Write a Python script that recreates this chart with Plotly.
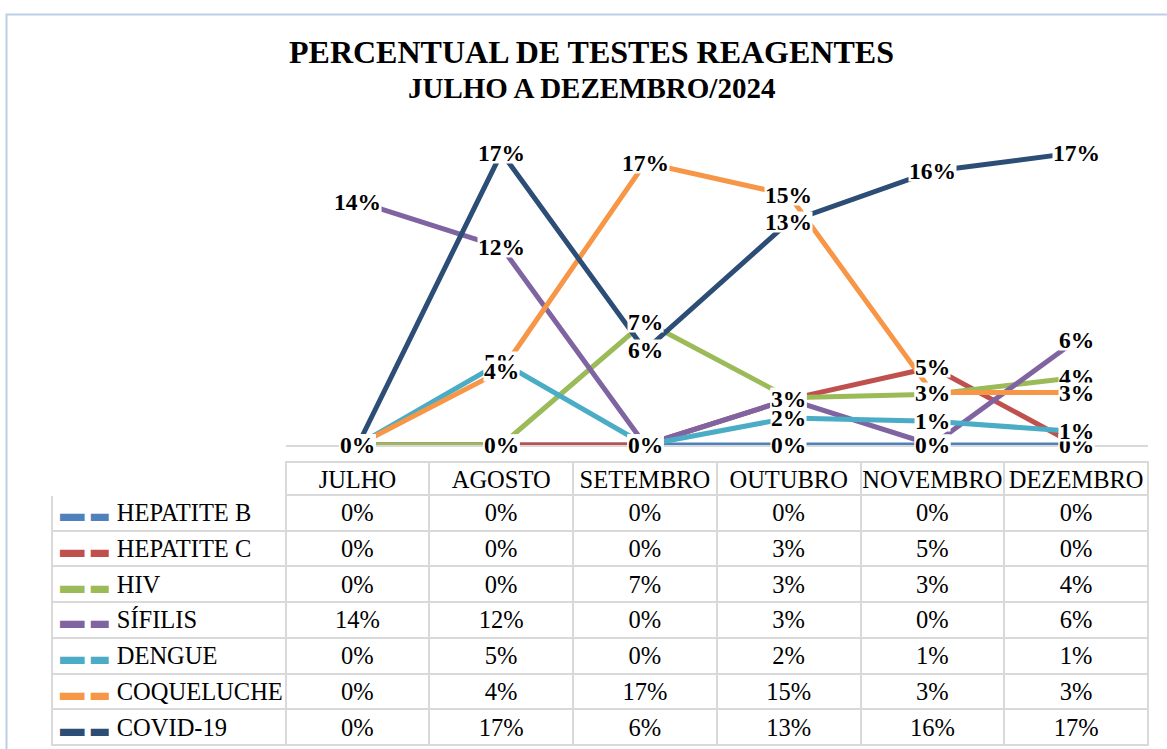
import plotly.graph_objects as go

W, H = 1167, 749

months = ["JULHO", "AGOSTO", "SETEMBRO", "OUTUBRO", "NOVEMBRO", "DEZEMBRO"]
series_names = ["HEPATITE B", "HEPATITE C", "HIV", "SÍFILIS", "DENGUE", "COQUELUCHE", "COVID-19"]
colors = ["#4F81BD", "#C0504D", "#9BBB59", "#8064A2", "#4BACC6", "#F79646", "#2C4D75"]

hepatite_b = [0.0, 0.0, 0.0, 0.0, 0.0, 0.0]
hepatite_c = [0.0, 0.0, 0.0, 0.027, 0.046, 0.0]
hiv = [0.0, 0.0, 0.073, 0.028, 0.030, 0.040]
sifilis = [0.144, 0.117, 0.0, 0.027, 0.0, 0.062]
dengue = [0.0, 0.049, 0.0, 0.016, 0.014, 0.008]
coqueluche = [0.0, 0.044, 0.167, 0.148, 0.031, 0.031]
covid = [0.0, 0.173, 0.056, 0.132, 0.162, 0.173]

all_series = [hepatite_b, hepatite_c, hiv, sifilis, dengue, coqueluche, covid]

title_1 = "PERCENTUAL DE TESTES REAGENTES"
title_2 = "JULHO A DEZEMBRO/2024"

SERIF = "Liberation Serif"
NBSP = "\u00a0"

def px_x(p):
    return p / W

def px_y(p):
    return 1 - p / H

fig = go.Figure()

for name, vals, col in zip(series_names, all_series, colors):
    fig.add_trace(go.Scatter(
        x=months, y=vals, mode="lines", name=name,
        line=dict(color=col, width=5),
        showlegend=False, cliponaxis=False, hoverinfo="skip",
    ))

annotations = []
for vals in all_series:
    for m, v in zip(months, vals):
        annotations.append(dict(
            x=m, y=v, xref="x", yref="y", text=f"<b>{v:.0%}</b>",
            showarrow=False, xanchor="center", yanchor="middle",
            font=dict(family=SERIF, size=23.5, color="black"),
            bgcolor="white", borderpad=0, height=20,
        ))

annotations.append(dict(x=px_x(591), y=px_y(52), xref="paper", yref="paper",
                        text=f"<b>{title_1}</b>", showarrow=False,
                        xanchor="center", yanchor="middle",
                        font=dict(family=SERIF, size=32, color="black")))
annotations.append(dict(x=px_x(591), y=px_y(88), xref="paper", yref="paper",
                        text=f"<b>{title_2}</b>", showarrow=False,
                        xanchor="center", yanchor="middle",
                        font=dict(family=SERIF, size=29, color="black")))

# data table: grid + values
value_cols = [[f"{s[i]:.0%}" for s in all_series] for i in range(len(months))]
grid = "#D9D9D9"
HEADER_H = 33
ROW_H = 35.7
TFONT = 24.5

fig.add_trace(go.Table(
    domain=dict(x=[px_x(52), px_x(1148)], y=[0, px_y(462)]),
    columnwidth=[234] + [144] * 6,
    header=dict(
        values=[""] + months,
        fill_color="white",
        line=dict(color=["white"] + [grid] * 6, width=2),
        align="center",
        height=HEADER_H,
        font=dict(family=SERIF, size=TFONT, color="black"),
    ),
    cells=dict(
        values=[[""] * len(series_names)] + value_cols,
        fill_color="white",
        line=dict(color=grid, width=2),
        align=["left"] + ["center"] * 6,
        height=ROW_H,
        font=dict(family=SERIF, size=TFONT, color="black"),
    ),
))

# legend keys + series names drawn in the first column (transparent overlay table)
keys = [f"▬{NBSP}▬" for _ in series_names]
names_nb = [n.replace(" ", NBSP) for n in series_names]
fig.add_trace(go.Table(
    domain=dict(x=[px_x(52), px_x(286)], y=[0, px_y(462)]),
    columnwidth=[57, 177],
    header=dict(
        values=["", ""],
        fill_color="rgba(0,0,0,0)",
        line=dict(color="rgba(0,0,0,0)", width=0),
        height=HEADER_H,
        font=dict(family=SERIF, size=TFONT, color="black"),
    ),
    cells=dict(
        values=[keys, names_nb],
        fill_color="rgba(0,0,0,0)",
        line=dict(color="rgba(0,0,0,0)", width=0),
        align="left",
        height=ROW_H,
        font=dict(family=SERIF, size=TFONT, color=[colors, ["black"] * len(series_names)]),
    ),
))

fig.update_layout(
    width=W, height=H,
    margin=dict(l=0, r=0, t=0, b=0),
    paper_bgcolor="white", plot_bgcolor="white",
    annotations=annotations,
    shapes=[dict(type="rect", xref="paper", yref="paper",
                 x0=px_x(6.5), y0=px_y(760), x1=px_x(1185), y1=px_y(14.5),
                 line=dict(color="#BCCFE6", width=2), fillcolor="rgba(0,0,0,0)",
                 layer="below")],
    xaxis=dict(domain=[px_x(286), px_x(1148)], type="category", range=[-0.5, 5.5],
               showline=True, linecolor=grid, linewidth=2, showgrid=False,
               showticklabels=False, ticks="", zeroline=False, layer="below traces",
               fixedrange=True),
    yaxis=dict(domain=[px_y(445), px_y(445 - 18 * 16.9)], range=[0, 0.18],
               visible=False, showgrid=False, zeroline=False, fixedrange=True),
)

fig.write_html("out.html", config={"displayModeBar": False},
               post_script="document.body.style.margin='0px';")
